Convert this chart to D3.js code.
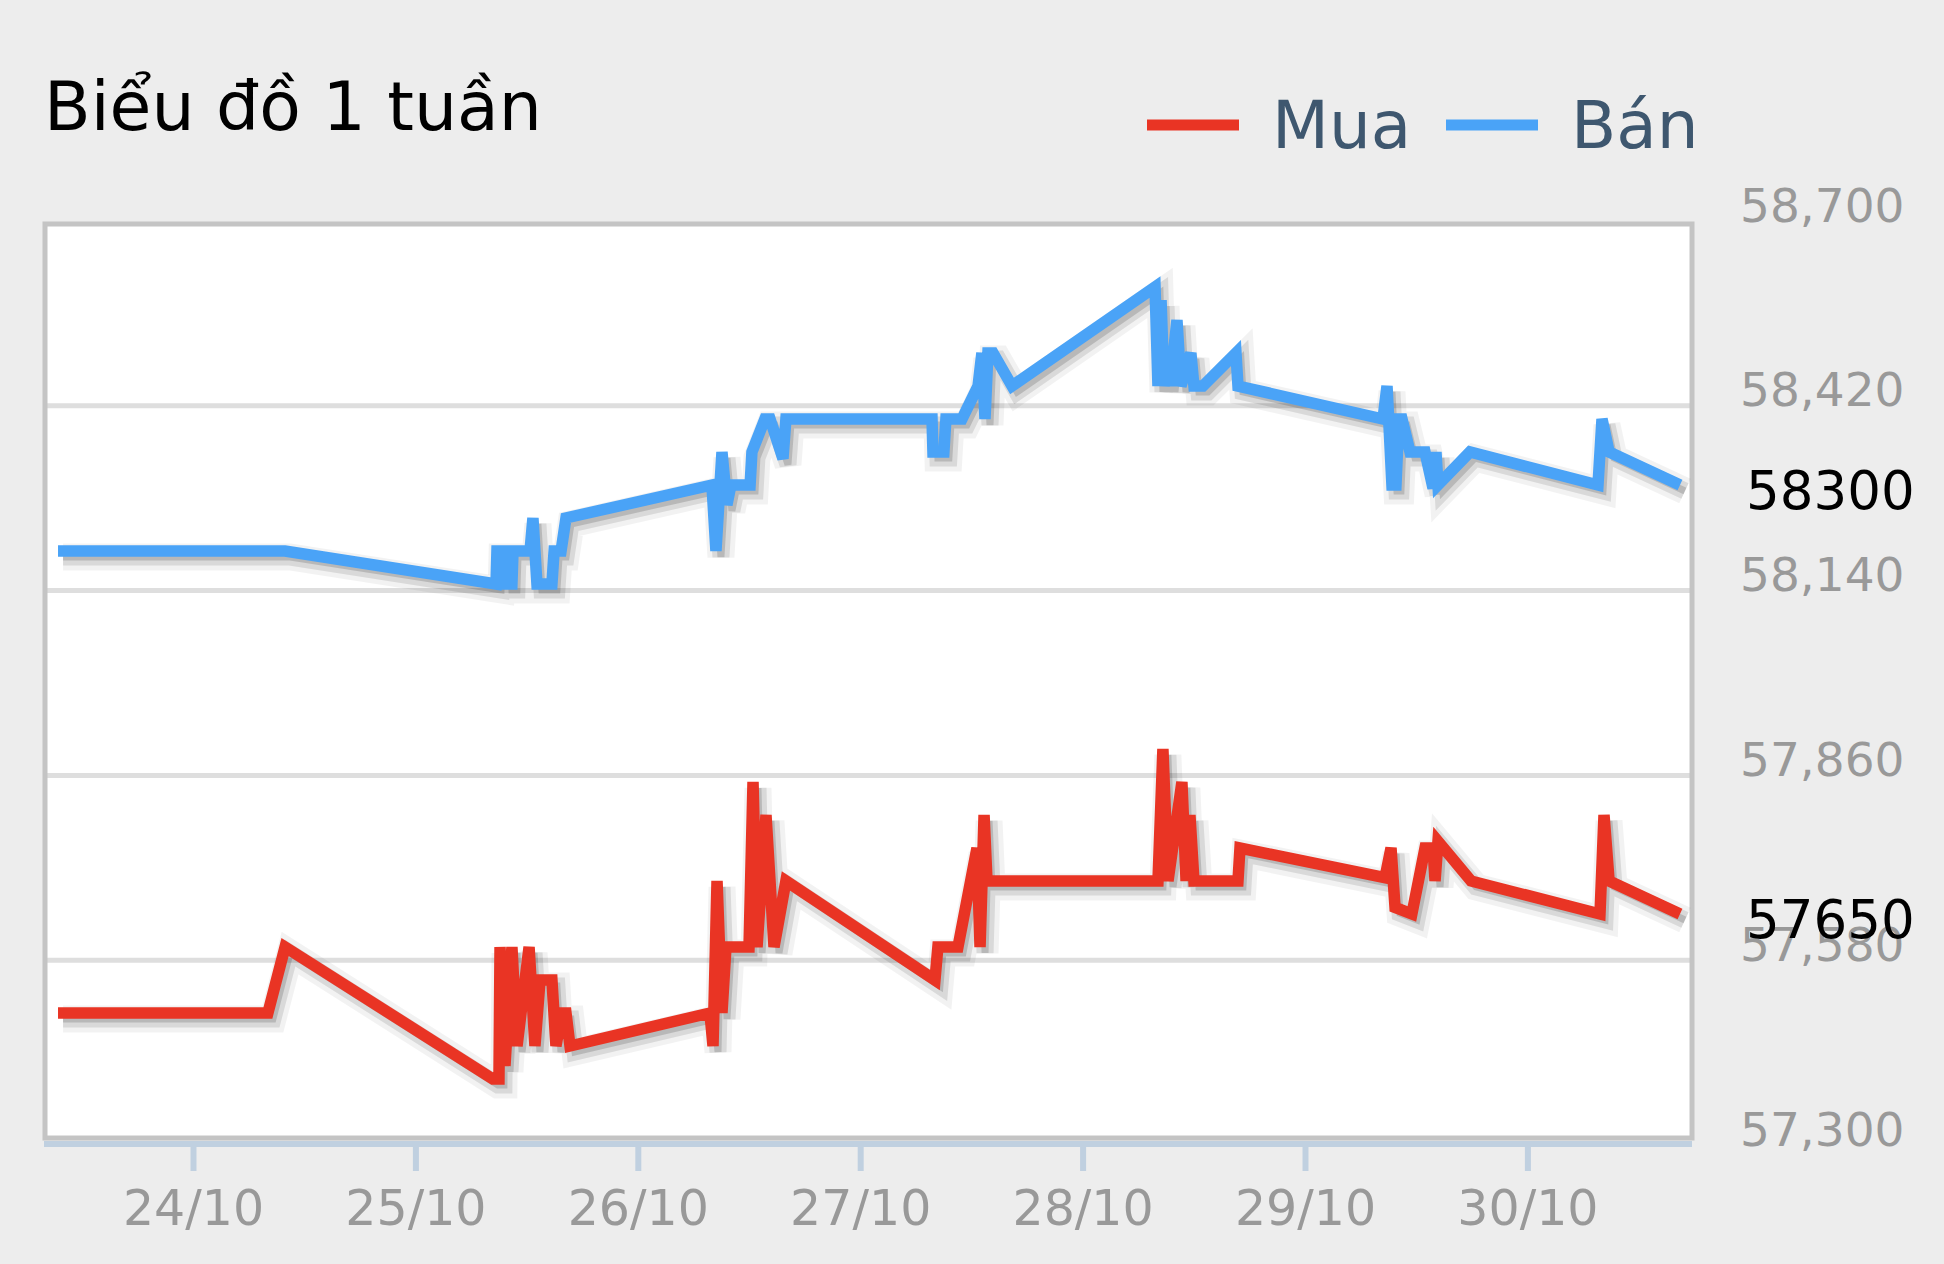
<!DOCTYPE html>
<html lang="vi">
<head>
    <meta charset="UTF-8">
    <title>Biểu đồ 1 tuần</title>
    <script src="https://cdn.jsdelivr.net/npm/d3@7"></script>
    <style>
        body {
            margin: 0;
            background-color: #ededed;
        }

        svg {
            display: block;
            font-family: "DejaVu Sans", sans-serif;
        }
    </style>
</head>
<body>
    <svg id="chart" width="1944" height="1264"></svg>

    <script>
        // values (time, price)
        const muaTimes = [
            "23/10 09:26", "24/10 08:05", "24/10 09:56", "25/10 08:22", "25/10 09:01", "25/10 09:08",
            "25/10 09:40", "25/10 10:25", "25/10 10:58", "25/10 12:16", "25/10 12:54", "25/10 13:27",
            "25/10 14:44", "25/10 15:10", "25/10 15:49", "25/10 16:15", "25/10 16:41", "26/10 07:47",
            "26/10 08:07", "26/10 08:33", "26/10 09:05", "26/10 09:31", "26/10 12:00", "26/10 12:26",
            "26/10 12:52", "26/10 13:50", "26/10 14:42", "26/10 15:59", "27/10 08:04", "27/10 08:23",
            "27/10 10:33", "27/10 12:36", "27/10 12:56", "27/10 13:22", "27/10 13:41", "28/10 08:08",
            "28/10 08:40", "28/10 09:13", "28/10 10:43", "28/10 11:10", "28/10 11:35", "28/10 12:01",
            "28/10 16:46", "28/10 16:59", "29/10 08:38", "29/10 09:17", "29/10 09:43", "29/10 11:32",
            "29/10 12:57", "29/10 13:49", "29/10 14:02", "29/10 14:21", "29/10 17:55", "30/10 07:50",
            "30/10 08:16", "30/10 08:49", "30/10 16:28"
        ];
        const muaValues = [
            57500, 57500, 57600, 57400, 57400, 57600,
            57420, 57600, 57450, 57600, 57450, 57550,
            57550, 57450, 57500, 57500, 57450, 57500,
            57450, 57700, 57500, 57600, 57600, 57850,
            57600, 57800, 57600, 57700, 57550, 57600,
            57600, 57750, 57600, 57800, 57700, 57700,
            57900, 57700, 57850, 57700, 57800, 57700,
            57700, 57750, 57705, 57750, 57660, 57650,
            57750, 57750, 57700, 57760, 57700, 57650,
            57800, 57700, 57650
        ];

        const banTimes = [
            "23/10 09:26", "24/10 09:56", "25/10 08:42", "25/10 08:48", "25/10 09:47", "25/10 09:53",
            "25/10 10:25", "25/10 10:32", "25/10 12:22", "25/10 12:41", "25/10 13:07", "25/10 14:44",
            "25/10 14:58", "25/10 15:43", "25/10 16:15", "26/10 08:00", "26/10 08:26", "26/10 09:05",
            "26/10 09:37", "26/10 10:03", "26/10 12:07", "26/10 12:19", "26/10 13:43", "26/10 14:16",
            "26/10 15:40", "26/10 15:59", "27/10 07:45", "27/10 07:51", "27/10 09:02", "27/10 09:15",
            "27/10 10:59", "27/10 12:43", "27/10 13:08", "27/10 13:28", "27/10 13:47", "27/10 14:20",
            "27/10 16:23", "28/10 07:49", "28/10 08:08", "28/10 08:28", "28/10 08:47", "28/10 09:13",
            "28/10 09:26", "28/10 10:11", "28/10 10:37", "28/10 11:41", "28/10 12:01", "28/10 12:59",
            "28/10 16:33", "28/10 16:46", "29/10 08:25", "29/10 08:51", "29/10 09:23", "29/10 09:49",
            "29/10 10:08", "29/10 10:28", "29/10 11:20", "29/10 12:57", "29/10 13:49", "29/10 14:08",
            "29/10 14:21", "29/10 17:48", "30/10 07:37", "30/10 08:03", "30/10 08:49", "30/10 16:28"
        ];
        const banValues = [
            58200, 58200, 58150, 58200, 58200, 58150,
            58150, 58200, 58200, 58250, 58150, 58150,
            58200, 58200, 58250, 58300, 58200, 58350,
            58270, 58300, 58300, 58350, 58400, 58400,
            58340, 58400, 58400, 58350, 58350, 58400,
            58400, 58450, 58500, 58400, 58500, 58500,
            58450, 58600, 58450, 58580, 58450, 58500,
            58450, 58550, 58450, 58500, 58450, 58450,
            58500, 58450, 58400, 58450, 58300, 58300,
            58400, 58400, 58350, 58350, 58295, 58350,
            58300, 58350, 58300, 58400, 58350, 58300
        ];

        const yTicks = [57300, 57580, 57860, 58140, 58420, 58700];
        const dayTicks = ["24/10", "25/10", "26/10", "27/10", "28/10", "29/10", "30/10"];

        const seriesNames = ["Mua", "Bán"];
        const seriesColors = ["#e93424", "#4aa3f7"];

        const parseTime = d3.timeParse("%d/%m/%Y %H:%M");
        const toDate = s => parseTime(s.replace(" ", "/2021 "));
        const parseDay = d3.timeParse("%d/%m/%Y");

        const series = [
            muaTimes.map((t, i) => ({ t: toDate(t), v: muaValues[i] })),
            banTimes.map((t, i) => ({ t: toDate(t), v: banValues[i] }))
        ];

        const svg = d3.select("#chart");

        const plot = { left: 45, right: 1692, top: 224, bottom: 1138 };

        const x = d3.scaleTime()
            .domain([parseDay("24/10/2021"), parseDay("30/10/2021")])
            .range([193, 1527.4]);

        const y = d3.scaleLinear()
            .domain([57300, 58700])
            .range([1145, 221]);

        // plot background
        svg.append("rect")
            .attr("x", plot.left)
            .attr("y", plot.top)
            .attr("width", plot.right - plot.left)
            .attr("height", plot.bottom - plot.top)
            .attr("fill", "#ffffff");

        // grid lines
        svg.append("g")
            .selectAll("line")
            .data(yTicks.slice(1, -1))
            .join("line")
            .attr("x1", plot.left)
            .attr("x2", plot.right)
            .attr("y1", d => y(d))
            .attr("y2", d => y(d))
            .attr("stroke", "#dedede")
            .attr("stroke-width", 5);

        // x axis
        const xAxis = d3.axisBottom(x)
            .tickValues(dayTicks.map(d => parseDay(d + "/2021")))
            .tickFormat(d3.timeFormat("%d/%m"))
            .tickSizeInner(27)
            .tickSizeOuter(0);

        const xg = svg.append("g")
            .attr("transform", `translate(0,1144)`)
            .call(xAxis);
        xg.select(".domain").remove();
        xg.selectAll(".tick line")
            .attr("stroke", "#c0d0e0")
            .attr("stroke-width", 6);
        xg.selectAll(".tick text")
            .attr("y", 81)
            .attr("dy", null)
            .attr("fill", "#999999")
            .attr("font-size", 49)
            .attr("font-family", "DejaVu Sans");

        svg.append("line")
            .attr("x1", plot.left - 1)
            .attr("x2", plot.right)
            .attr("y1", 1144)
            .attr("y2", 1144)
            .attr("stroke", "#c0d0e0")
            .attr("stroke-width", 6);

        // plot border
        svg.append("rect")
            .attr("x", plot.left)
            .attr("y", plot.top)
            .attr("width", plot.right - plot.left)
            .attr("height", plot.bottom - plot.top)
            .attr("fill", "none")
            .attr("stroke", "#c4c4c4")
            .attr("stroke-width", 5);

        // y axis on the right
        const yAxis = d3.axisRight(y)
            .tickValues(yTicks)
            .tickFormat(d3.format(","))
            .tickSize(0);

        const yg = svg.append("g")
            .attr("transform", "translate(1740,0)")
            .call(yAxis);
        yg.select(".domain").remove();
        yg.selectAll(".tick text")
            .attr("x", 0)
            .attr("dy", null)
            .attr("text-anchor", "start")
            .attr("fill", "#999999")
            .attr("font-size", 47)
            .attr("font-family", "DejaVu Sans");

        // lines with soft shadow
        const line = d3.line()
            .x(d => x(d.t))
            .y(d => y(d.v));

        series.forEach((data, i) => {
            const g = svg.append("g");
            [[27, 0.05], [17, 0.1], [7, 0.15]].forEach(([w, o]) => {
                g.append("path")
                    .datum(data)
                    .attr("d", line)
                    .attr("transform", "translate(5,6)")
                    .attr("fill", "none")
                    .attr("stroke", "#000")
                    .attr("stroke-opacity", o)
                    .attr("stroke-width", w);
            });
            g.append("path")
                .datum(data)
                .attr("d", line)
                .attr("fill", "none")
                .attr("stroke", seriesColors[i])
                .attr("stroke-width", 11.5);
        });

        // last value labels
        svg.append("g")
            .selectAll("text")
            .data(series.map(s => s[s.length - 1].v))
            .join("text")
            .attr("x", 1746)
            .attr("y", d => y(d) + 24)
            .attr("font-size", 53)
            .attr("fill", "#000")
            .text(d => d);

        // title
        svg.append("text")
            .attr("x", 44)
            .attr("y", 130)
            .attr("font-size", 68)
            .attr("fill", "#000")
            .text("Biểu đồ 1 tuần");

        // legend
        const legendX = [1147, 1446];
        const legend = svg.append("g");
        seriesNames.forEach((name, i) => {
            legend.append("line")
                .attr("x1", legendX[i])
                .attr("x2", legendX[i] + 92)
                .attr("y1", 125)
                .attr("y2", 125)
                .attr("stroke", seriesColors[i])
                .attr("stroke-width", 11);
            legend.append("text")
                .attr("x", legendX[i] + 125)
                .attr("y", 148)
                .attr("font-size", 66)
                .attr("fill", "#3e576f")
                .text(name);
        });
    </script>
</body>
</html>
